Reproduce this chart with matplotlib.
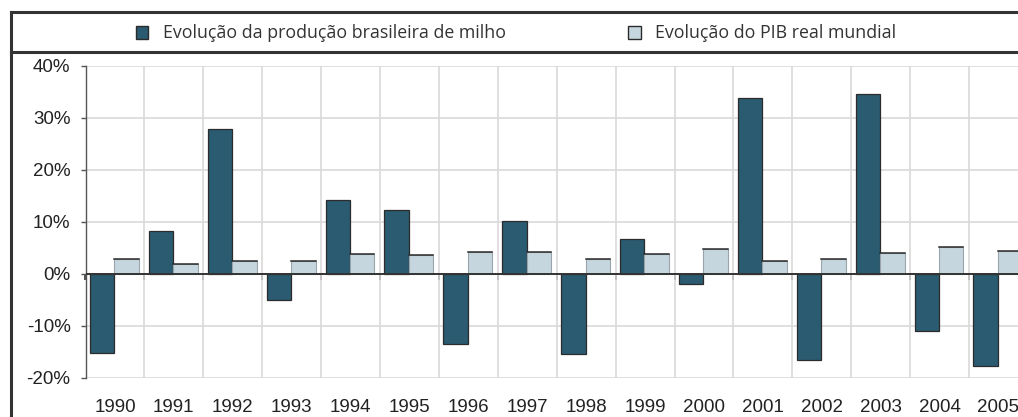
import matplotlib
matplotlib.use("Agg")
import matplotlib.pyplot as plt
import numpy as np
from matplotlib.lines import Line2D

years = ["1990", "1991", "1992", "1993", "1994", "1995", "1996", "1997",
         "1998", "1999", "2000", "2001", "2002", "2003", "2004", "2005"]
milho = [-15.3, 8.3, 27.8, -5.1, 14.2, 12.2, -13.5, 10.2,
         -15.5, 6.7, -1.9, 33.7, -16.6, 34.5, -11.1, -17.8]
pib = [2.9, 1.8, 2.4, 2.4, 3.8, 3.6, 4.1, 4.2,
       2.8, 3.7, 4.7, 2.5, 2.9, 4.0, 5.1, 4.3]
yticks = [-20, -10, 0, 10, 20, 30, 40]
legend_labels = ["Evolução da produção brasileira de milho", "Evolução do PIB real mundial"]

W, H = 1018, 417
fig = plt.figure(figsize=(W / 100, H / 100), dpi=100)
left_px, right_px = 85.5, 85.5 + 16 * 58.9
top_px, bot_px = 65.7, 377.7
ax = fig.add_axes([left_px / W, 1 - bot_px / H, (right_px - left_px) / W, (bot_px - top_px) / H])

x = np.arange(len(years))
bw = 0.415
dark = "#2a5b70"
light = "#c6d6de"
b1 = ax.bar(x - 0.01 - bw / 2, milho, width=bw, color=dark, edgecolor="#2b2b2b", linewidth=0.9, zorder=3)
b2 = ax.bar(x - 0.01 + bw / 2, pib, width=bw, color=light, edgecolor="#9aa4aa", linewidth=0.8, zorder=3)
# dark top edge on light bars
for r in b2:
    ax.plot([r.get_x(), r.get_x() + r.get_width()], [r.get_height()] * 2, color="#2b2b2b", lw=1.1, zorder=4)

ax.set_xlim(-0.5, len(years) - 0.5)
ax.set_ylim(yticks[0], yticks[-1])
ax.set_yticks(yticks)
ax.set_yticklabels([f"{v}%" for v in yticks])
ax.set_xticks(x)
ax.set_xticklabels(years)
ax.set_xticks(np.arange(len(years) + 1) - 0.5, minor=True)

ax.grid(axis="y", which="major", color="#d9d9d9", lw=1.2, zorder=0)
ax.grid(axis="x", which="minor", color="#d9d9d9", lw=1.2, zorder=0)
ax.grid(axis="x", which="major", visible=False)
ax.axhline(0, color="#333333", lw=1.4, zorder=5)

for s in ["top", "right", "bottom"]:
    ax.spines[s].set_visible(False)
ax.spines["left"].set_color("#555555")
ax.spines["left"].set_linewidth(1.0)

ax.tick_params(axis="y", length=3.8, width=1.0, color="#555555", pad=7,
               labelsize=13.5, labelcolor="#222222")
ax.tick_params(axis="x", which="major", length=0, pad=15, labelsize=13.5, labelcolor="#222222")
ax.tick_params(axis="x", which="minor", length=0)
for lab in ax.get_xticklabels() + ax.get_yticklabels():
    lab.set_family("Liberation Sans")

# boundary ticks on zero line
frac0 = (0 - yticks[0]) / (yticks[-1] - yticks[0])
sec = ax.secondary_xaxis(frac0)
sec.set_xticks(np.arange(len(years) + 1) - 0.5)
sec.set_xticklabels([])
sec.tick_params(length=4, width=1.2, color="#333333", direction="out")
sec.spines["bottom"].set_visible(False)

# frame
fig.add_artist(Line2D([11 / W, 11 / W], [0, 1 - 11.5 / H], color="#333333", lw=2.2, transform=fig.transFigure))
fig.add_artist(Line2D([11 / W, 1], [1 - 11.5 / H, 1 - 11.5 / H], color="#333333", lw=2.2, transform=fig.transFigure))
fig.add_artist(Line2D([11 / W, 1], [1 - 51.7 / H, 1 - 51.7 / H], color="#333333", lw=2.2, transform=fig.transFigure))

leg = fig.legend([b1, b2], legend_labels, loc="center", bbox_to_anchor=(516 / W, 1 - 33.5 / H),
                 ncol=2, frameon=False, prop={"family": "Open Sans", "size": 12.8},
                 handlelength=0.72, handleheight=0.72, handletextpad=0.8, columnspacing=6.9,
                 labelcolor="#333333")
for h in leg.legend_handles:
    h.set_edgecolor("#2b2b2b")
    h.set_linewidth(1.0)

fig.savefig("out.png", dpi=100)
